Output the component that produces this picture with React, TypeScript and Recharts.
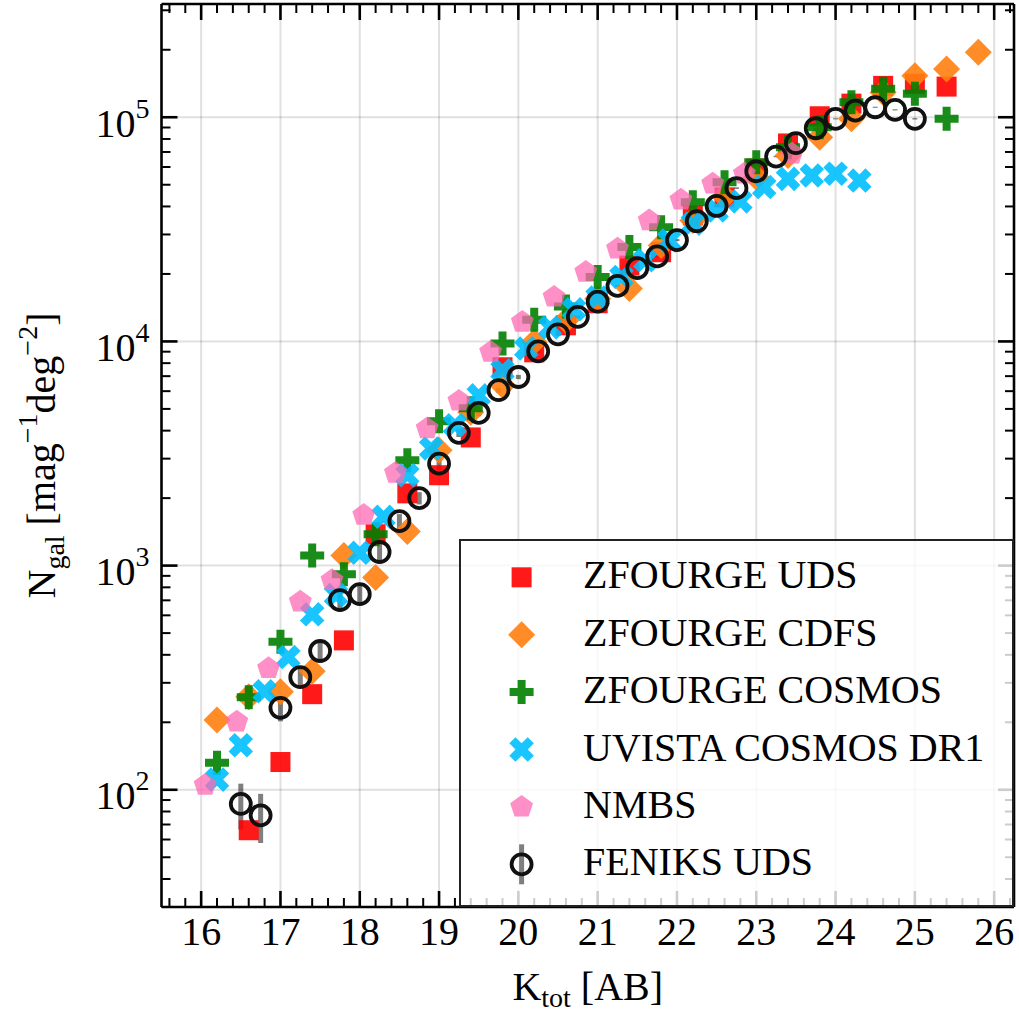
import React from 'react';
import { ScatterChart, Scatter, XAxis, YAxis, CartesianGrid, ErrorBar, Legend } from 'recharts';

const FONT = "'Liberation Serif', 'Times New Roman', Times, serif";

// ZFOURGE UDS
const udsMag = [16.6, 17.0, 17.4, 17.8, 18.2, 18.6, 19.0, 19.4, 19.8, 20.2, 20.6, 21.0, 21.4, 21.8, 22.2, 22.6, 23.0, 23.4, 23.8, 24.2, 24.6, 25.0, 25.4];
const udsCounts = [66, 133, 267, 464, 1380, 2100, 2530, 3730, 7670, 8940, 11800, 14800, 21800, 25000, 36500, 43900, 59000, 76400, 101000, 115000, 138000, 141000, 137000];

// ZFOURGE CDFS
const cdfsMag = [16.2, 16.6, 17.0, 17.4, 17.8, 18.2, 18.6, 19.0, 19.4, 19.8, 20.2, 20.6, 21.0, 21.4, 21.8, 22.2, 22.6, 23.0, 23.4, 23.8, 24.2, 24.6, 25.0, 25.4, 25.8];
const cdfsCounts = [205, 260, 274, 338, 1110, 885, 1420, 3270, 4830, 6370, 9940, 12400, 15500, 17200, 26800, 34600, 44300, 54000, 67500, 81400, 98400, 129000, 153000, 164000, 195000];

// ZFOURGE COSMOS
const zcosMag = [16.2, 16.6, 17.0, 17.4, 17.8, 18.2, 18.6, 19.0, 19.4, 19.8, 20.2, 20.6, 21.0, 21.4, 21.8, 22.2, 22.6, 23.0, 23.4, 23.8, 24.2, 24.6, 25.0, 25.4];
const zcosCounts = [132, 259, 458, 1110, 916, 1380, 2950, 4400, 5040, 9780, 12500, 14300, 19400, 26400, 32300, 41800, 51300, 63000, 73500, 90300, 116600, 133900, 127200, 98400];

// UltraVISTA COSMOS DR1
const uvistaMag = [16.2, 16.5, 16.8, 17.1, 17.4, 17.7, 18.0, 18.3, 18.6, 18.9, 19.2, 19.5, 19.8, 20.1, 20.4, 20.7, 21.0, 21.3, 21.6, 21.9, 22.2, 22.5, 22.8, 23.1, 23.4, 23.7, 24.0, 24.3];
const uvistaCounts = [111, 158, 275, 391, 606, 739, 1140, 1650, 2530, 3330, 4230, 5750, 7430, 9290, 11550, 13900, 15700, 19400, 23000, 28200, 33500, 38400, 42100, 48800, 53100, 55000, 56000, 52200];

// NMBS
const nmbsMag = [16.05, 16.45, 16.85, 17.25, 17.65, 18.05, 18.45, 18.85, 19.25, 19.65, 20.05, 20.45, 20.85, 21.25, 21.65, 22.05, 22.45, 22.85, 23.45];
const nmbsCounts = [105, 201, 348, 690, 861, 1680, 2590, 4090, 5430, 8970, 12200, 15800, 20400, 25900, 34600, 42800, 50500, 56000, 68700];

// FENIKS UDS, with Poisson errors
const feniksMag = [16.5, 16.75, 17.0, 17.25, 17.5, 17.75, 18.0, 18.25, 18.5, 18.75, 19.0, 19.25, 19.5, 19.75, 20.0, 20.25, 20.5, 20.75, 21.0, 21.25, 21.5, 21.75, 22.0, 22.25, 22.5, 22.75, 23.0, 23.25, 23.5, 23.75, 24.0, 24.25, 24.5, 24.75, 25.0];
const feniksCounts = [86.5, 76.9, 232, 318, 416, 702, 746, 1150, 1580, 2000, 2850, 3910, 4800, 6060, 6940, 9030, 10760, 12870, 15040, 17690, 21240, 23950, 28310, 34370, 40200, 48280, 57410, 66790, 76600, 89300, 98400, 107100, 110800, 107900, 98400];
const feniksErr = [20, 19, 30, 28, 38, 70, 72, 98, 117, 126, 180, 164, 160, 150, 150, 170, 180, 200, 210, 230, 260, 280, 300, 330, 360, 400, 430, 470, 500, 540, 580, 620, 650, 680, 700];

const X_MAJOR = [16, 17, 18, 19, 20, 21, 22, 23, 24, 25, 26];
const Y_MAJOR = [100, 1000, 10000, 100000];

const toPoints = (mag: number[], n: number[], err?: number[]) =>
    mag.map((m, i) => ({ x: m, y: n[i], err: err ? err[i] : 0 }));

// minor ticks every 0.2 mag, log minor ticks 2..9 per decade
const xTicks: number[] = [];
for (let i = 78; i <= 131; i++) xTicks.push(Math.round(i * 2) / 10);
const yTicks: number[] = [];
for (let d = 1; d <= 5; d++) {
    for (let m = 1; m <= 9; m++) {
        const v = m * Math.pow(10, d);
        if (v >= 30 && v <= 320000) yTicks.push(v);
    }
}

const isMajorX = (v: number) => Math.abs(v - Math.round(v)) < 1e-6;
const isMajorY = (v: number) => Math.abs(Math.log10(v) - Math.round(Math.log10(v))) < 1e-6;

const TICK_MAJOR = 16;
const TICK_MINOR = 9;

const BottomTick = (props: any) => {
    const { x, y, payload } = props;
    const major = isMajorX(payload.value);
    return (
        <g>
            <line x1={x} y1={y} x2={x} y2={y - (major ? TICK_MAJOR : TICK_MINOR)} stroke="#000" strokeWidth={major ? 2.6 : 2} />
            {major && (
                <text x={x} y={y + 38} textAnchor="middle" fontSize={40} fontFamily={FONT} fill="#000">
                    {Math.round(payload.value)}
                </text>
            )}
        </g>
    );
};

const TopTick = (props: any) => {
    const { x, y, payload } = props;
    const major = isMajorX(payload.value);
    return <line x1={x} y1={y} x2={x} y2={y + (major ? TICK_MAJOR : TICK_MINOR)} stroke="#000" strokeWidth={major ? 2.6 : 2} />;
};

const LeftTick = (props: any) => {
    const { x, y, payload } = props;
    const major = isMajorY(payload.value);
    const exp = Math.round(Math.log10(payload.value));
    return (
        <g>
            <line x1={x} y1={y} x2={x + (major ? TICK_MAJOR : TICK_MINOR)} y2={y} stroke="#000" strokeWidth={major ? 2.6 : 2} />
            {major && (
                <text x={x - 12} y={y + 19.5} textAnchor="end" fontSize={40} fontFamily={FONT} fill="#000">
                    <tspan>10</tspan>
                    <tspan fontSize={28} dy={-19}>{exp}</tspan>
                </text>
            )}
        </g>
    );
};

const RightTick = (props: any) => {
    const { x, y, payload } = props;
    const major = isMajorY(payload.value);
    return <line x1={x} y1={y} x2={x - (major ? TICK_MAJOR : TICK_MINOR)} y2={y} stroke="#000" strokeWidth={major ? 2.6 : 2} />;
};

const XTitle = (props: any) => {
    const { viewBox } = props;
    const cx = viewBox.x + viewBox.width / 2;
    return (
        <text x={cx} y={viewBox.y + 93} textAnchor="middle" fontSize={40} fontFamily={FONT} fill="#000" style={{ whiteSpace: 'pre' }}>
            <tspan>K</tspan>
            <tspan fontSize={28} dy={7}>tot</tspan>
            <tspan dy={-7}> [AB]</tspan>
        </text>
    );
};

const YTitle = (props: any) => {
    const { viewBox } = props;
    const cy = viewBox.y + viewBox.height / 2;
    return (
        <text transform={`translate(55, ${cy}) rotate(-90)`} textAnchor="middle" fontSize={40} fontFamily={FONT} fill="#000" style={{ whiteSpace: 'pre' }}>
            <tspan>N</tspan>
            <tspan fontSize={28} dy={9}>gal</tspan>
            <tspan dy={-9}> [mag</tspan>
            <tspan fontSize={28} dy={-18}>−1</tspan>
            <tspan dy={18}>deg</tspan>
            <tspan fontSize={28} dy={-18}>−2</tspan>
            <tspan dy={18}>]</tspan>
        </text>
    );
};

// marker shapes
const Square = ({ cx, cy }: any) => (
    <rect x={cx - 10} y={cy - 10} width={20} height={20} fill="#ff0000" fillOpacity={0.9} />
);

const Diamond = ({ cx, cy }: any) => {
    const h = 13.5;
    return <polygon points={`${cx},${cy - h} ${cx + h},${cy} ${cx},${cy + h} ${cx - h},${cy}`} fill="#ff7f0e" fillOpacity={0.9} />;
};

const PLUS = [[-4, -12], [4, -12], [4, -4], [12, -4], [12, 4], [4, 4], [4, 12], [-4, 12], [-4, 4], [-12, 4], [-12, -4], [-4, -4]];

const Plus = ({ cx, cy }: any) => (
    <polygon points={PLUS.map(([px, py]) => `${cx + px},${cy + py}`).join(' ')} fill="#008000" fillOpacity={0.9} />
);

const Cross = ({ cx, cy }: any) => {
    const s = 13 / 12;
    const pts = PLUS.map(([px, py]) => {
        const ax = px * s, ay = py * s;
        return `${cx + (ax - ay) / Math.SQRT2},${cy + (ax + ay) / Math.SQRT2}`;
    });
    return <polygon points={pts.join(' ')} fill="#00bfff" fillOpacity={0.9} />;
};

const Pentagon = ({ cx, cy }: any) => {
    const r = 12;
    const pts = [0, 1, 2, 3, 4].map(k => {
        const a = (-90 + 72 * k) * Math.PI / 180;
        return `${cx + r * Math.cos(a)},${cy + r * Math.sin(a)}`;
    });
    return <polygon points={pts.join(' ')} fill="#ff69b4" fillOpacity={0.75} />;
};

const Ring = ({ cx, cy }: any) => (
    <circle cx={cx} cy={cy} r={10} fill="none" stroke="#111" strokeWidth={3.8} />
);

const SERIES = [
    { name: 'ZFOURGE UDS', shape: Square },
    { name: 'ZFOURGE CDFS', shape: Diamond },
    { name: 'ZFOURGE COSMOS', shape: Plus },
    { name: 'UVISTA COSMOS DR1', shape: Cross },
    { name: 'NMBS', shape: Pentagon },
    { name: 'FENIKS UDS', shape: Ring },
];

const LEG_W = 555;
const LEG_H = 368;

const LegendBox = () => (
    <svg width={LEG_W} height={LEG_H} style={{ display: 'block' }}>
        <rect x={1} y={1} width={LEG_W - 2} height={LEG_H - 2} fill="#fff" fillOpacity={0.8} stroke="#222" strokeWidth={2} />
        {SERIES.map((s, i) => {
            const cy = 38.3 + 57.4 * i;
            const Shape = s.shape;
            return (
                <g key={s.name}>
                    {s.name === 'FENIKS UDS' && (
                        <line x1={62.6} y1={cy - 20} x2={62.6} y2={cy + 20} stroke="#000" strokeOpacity={0.5} strokeWidth={5} />
                    )}
                    <Shape cx={62.6} cy={cy} />
                    <text x={124} y={cy + 11} fontSize={40} fontFamily={FONT} fill="#000">{s.name}</text>
                </g>
            );
        })}
    </svg>
);

const App: React.FC = () => {
    const W = 1019;
    const H = 1011;
    return (
        <div style={{ position: 'absolute', left: 0, top: 0, width: W, height: H, background: '#fff' }}>
            <ScatterChart width={W} height={H} margin={{ top: 3, right: 4, bottom: 0, left: 0 }}>
                <CartesianGrid xAxisId="b" yAxisId="l" verticalValues={X_MAJOR} horizontalValues={Y_MAJOR} stroke="#000" strokeOpacity={0.12} strokeWidth={2} />
                <XAxis
                    xAxisId="b"
                    type="number"
                    dataKey="x"
                    domain={[15.5, 26.25]}
                    allowDataOverflow
                    ticks={xTicks}
                    interval={0}
                    tickSize={0}
                    tickMargin={0}
                    tickLine={false}
                    tick={<BottomTick />}
                    axisLine={{ stroke: '#000', strokeWidth: 2.6 }}
                    height={104}
                    label={<XTitle />}
                />
                <XAxis
                    xAxisId="t"
                    orientation="top"
                    type="number"
                    dataKey="x"
                    domain={[15.5, 26.25]}
                    allowDataOverflow
                    ticks={xTicks}
                    interval={0}
                    tickSize={0}
                    tickMargin={0}
                    tickLine={false}
                    tick={<TopTick />}
                    axisLine={{ stroke: '#000', strokeWidth: 2.6 }}
                    height={1}
                />
                <YAxis
                    yAxisId="l"
                    type="number"
                    dataKey="y"
                    scale="log"
                    domain={[30, 320000]}
                    allowDataOverflow
                    ticks={yTicks}
                    interval={0}
                    tickSize={0}
                    tickMargin={0}
                    tickLine={false}
                    tick={<LeftTick />}
                    axisLine={{ stroke: '#000', strokeWidth: 2.6 }}
                    width={161.5}
                    label={<YTitle />}
                />
                <YAxis
                    yAxisId="r"
                    orientation="right"
                    type="number"
                    dataKey="y"
                    scale="log"
                    domain={[30, 320000]}
                    allowDataOverflow
                    ticks={yTicks}
                    interval={0}
                    tickSize={0}
                    tickMargin={0}
                    tickLine={false}
                    tick={<RightTick />}
                    axisLine={{ stroke: '#000', strokeWidth: 2.6 }}
                    width={1}
                />
                <Scatter name="ZFOURGE UDS" xAxisId="b" yAxisId="l" data={toPoints(udsMag, udsCounts)} shape={Square} isAnimationActive={false} />
                <Scatter name="ZFOURGE CDFS" xAxisId="b" yAxisId="l" data={toPoints(cdfsMag, cdfsCounts)} shape={Diamond} isAnimationActive={false} />
                <Scatter name="ZFOURGE COSMOS" xAxisId="b" yAxisId="l" data={toPoints(zcosMag, zcosCounts)} shape={Plus} isAnimationActive={false} />
                <Scatter name="UVISTA COSMOS DR1" xAxisId="b" yAxisId="l" data={toPoints(uvistaMag, uvistaCounts)} shape={Cross} isAnimationActive={false} />
                <Scatter name="NMBS" xAxisId="b" yAxisId="l" data={toPoints(nmbsMag, nmbsCounts)} shape={Pentagon} isAnimationActive={false} />
                <Scatter name="FENIKS UDS" xAxisId="b" yAxisId="l" data={toPoints(feniksMag, feniksCounts, feniksErr)} shape={Ring} isAnimationActive={false}>
                    <ErrorBar dataKey="err" direction="y" width={0} stroke="#000" strokeOpacity={0.5} strokeWidth={5} isAnimationActive={false} />
                </Scatter>
                <Legend
                    layout="vertical"
                    align="center"
                    verticalAlign="middle"
                    wrapperStyle={{ left: 459, top: 539, width: LEG_W, height: LEG_H }}
                    content={() => <LegendBox />}
                />
            </ScatterChart>
        </div>
    );
};

export default App;
